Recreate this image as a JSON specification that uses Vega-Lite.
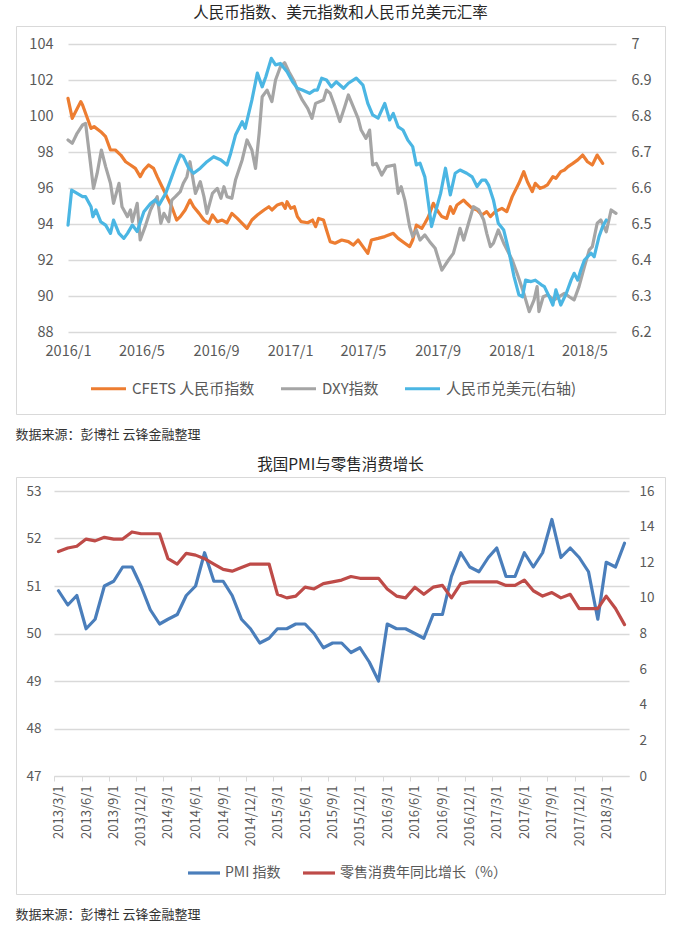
{
"$schema": "https://vega.github.io/schema/vega-lite/v6.json",
"background": "white",
"padding": {"left": 15, "right": 16, "top": 5, "bottom": 2},
"spacing": 15,
"resolve": {"scale": {"color": "independent"}, "legend": {"color": "independent"}},
"config": {
  "font": "Noto Sans CJK SC",
  "view": {"stroke": "#d9d9d9", "strokeWidth": 1},
  "axis": {"labelFont": "Noto Sans CJK SC", "labelColor": "#595959", "gridColor": "#d9d9d9", "gridWidth": 1.3, "ticks": false, "domain": false, "tickSize": 0, "labelOverlap": false},
  "legend": {"labelFont": "Noto Sans CJK SC", "labelColor": "#595959", "labelLimit": 400},
  "title": {"font": "Noto Sans CJK SC", "fontWeight": "normal", "color": "#262626"},
  "line": {"strokeWidth": 3.2, "strokeJoin": "round", "strokeCap": "round"}
},
"datasets": {
  "cfets": [
    {"d":"2016-01-01","v":100.98},{"d":"2016-01-08","v":99.87},{"d":"2016-01-22","v":100.80},{"d":"2016-01-25","v":100.61},{"d":"2016-02-03","v":99.78},{"d":"2016-02-08","v":99.31},{"d":"2016-02-13","v":99.41},{"d":"2016-02-24","v":99.13},{"d":"2016-03-03","v":98.85},{"d":"2016-03-11","v":98.11},{"d":"2016-03-19","v":98.11},{"d":"2016-03-28","v":97.83},{"d":"2016-04-05","v":97.46},{"d":"2016-04-13","v":97.28},{"d":"2016-04-21","v":97.09},{"d":"2016-04-29","v":96.63},{"d":"2016-05-05","v":97.00},{"d":"2016-05-13","v":97.28},{"d":"2016-05-21","v":97.09},{"d":"2016-05-27","v":96.63},{"d":"2016-06-04","v":96.07},{"d":"2016-06-12","v":95.52},{"d":"2016-06-20","v":94.96},{"d":"2016-06-28","v":94.22},{"d":"2016-07-04","v":94.41},{"d":"2016-07-12","v":94.78},{"d":"2016-07-20","v":95.33},{"d":"2016-07-26","v":94.96},{"d":"2016-08-04","v":94.59},{"d":"2016-08-12","v":94.22},{"d":"2016-08-20","v":94.04},{"d":"2016-08-26","v":94.50},{"d":"2016-09-03","v":94.13},{"d":"2016-09-11","v":94.22},{"d":"2016-09-19","v":94.07},{"d":"2016-09-27","v":94.59},{"d":"2016-10-06","v":94.31},{"d":"2016-10-14","v":94.04},{"d":"2016-10-22","v":93.76},{"d":"2016-10-30","v":94.22},{"d":"2016-11-08","v":94.50},{"d":"2016-11-19","v":94.78},{"d":"2016-11-27","v":94.96},{"d":"2016-12-02","v":94.78},{"d":"2016-12-11","v":95.06},{"d":"2016-12-19","v":95.15},{"d":"2016-12-24","v":94.87},{"d":"2016-12-27","v":95.24},{"d":"2017-01-02","v":94.87},{"d":"2017-01-08","v":94.96},{"d":"2017-01-13","v":94.41},{"d":"2017-01-19","v":94.13},{"d":"2017-01-30","v":94.07},{"d":"2017-02-07","v":94.22},{"d":"2017-02-12","v":93.85},{"d":"2017-02-17","v":94.31},{"d":"2017-02-25","v":94.22},{"d":"2017-03-02","v":93.67},{"d":"2017-03-08","v":93.02},{"d":"2017-03-16","v":92.93},{"d":"2017-03-27","v":93.11},{"d":"2017-04-07","v":93.02},{"d":"2017-04-15","v":92.83},{"d":"2017-04-23","v":93.11},{"d":"2017-05-01","v":92.74},{"d":"2017-05-09","v":92.37},{"d":"2017-05-15","v":93.11},{"d":"2017-05-26","v":93.20},{"d":"2017-06-06","v":93.30},{"d":"2017-06-20","v":93.48},{"d":"2017-06-28","v":93.20},{"d":"2017-07-09","v":92.93},{"d":"2017-07-17","v":92.74},{"d":"2017-07-22","v":93.11},{"d":"2017-07-28","v":93.94},{"d":"2017-08-06","v":93.76},{"d":"2017-08-11","v":94.04},{"d":"2017-08-17","v":94.41},{"d":"2017-08-25","v":95.15},{"d":"2017-08-31","v":94.78},{"d":"2017-09-08","v":94.41},{"d":"2017-09-16","v":94.31},{"d":"2017-09-22","v":94.96},{"d":"2017-09-27","v":94.59},{"d":"2017-10-03","v":95.06},{"d":"2017-10-14","v":95.33},{"d":"2017-10-19","v":95.15},{"d":"2017-10-28","v":94.87},{"d":"2017-11-05","v":94.78},{"d":"2017-11-13","v":94.50},{"d":"2017-11-21","v":94.69},{"d":"2017-11-27","v":94.41},{"d":"2017-12-05","v":94.69},{"d":"2017-12-16","v":94.87},{"d":"2017-12-24","v":94.69},{"d":"2018-01-02","v":95.52},{"d":"2018-01-13","v":96.26},{"d":"2018-01-21","v":96.91},{"d":"2018-01-27","v":96.35},{"d":"2018-02-04","v":95.80},{"d":"2018-02-09","v":96.26},{"d":"2018-02-17","v":95.98},{"d":"2018-02-24","v":96.07},{"d":"2018-03-01","v":96.17},{"d":"2018-03-10","v":96.63},{"d":"2018-03-15","v":96.54},{"d":"2018-03-23","v":96.91},{"d":"2018-03-29","v":97.00},{"d":"2018-04-04","v":97.19},{"d":"2018-04-12","v":97.37},{"d":"2018-04-20","v":97.56},{"d":"2018-04-28","v":97.83},{"d":"2018-05-06","v":97.46},{"d":"2018-05-14","v":97.28},{"d":"2018-05-22","v":97.83},{"d":"2018-05-31","v":97.37}
  ],
  "dxy": [
    {"d":"2016-01-01","v":98.67},{"d":"2016-01-08","v":98.48},{"d":"2016-01-16","v":99.04},{"d":"2016-01-25","v":99.50},{"d":"2016-01-30","v":99.59},{"d":"2016-02-05","v":97.93},{"d":"2016-02-12","v":95.98},{"d":"2016-02-18","v":96.81},{"d":"2016-02-25","v":98.11},{"d":"2016-03-03","v":97.19},{"d":"2016-03-11","v":96.26},{"d":"2016-03-16","v":95.15},{"d":"2016-03-25","v":96.26},{"d":"2016-03-30","v":94.96},{"d":"2016-04-08","v":94.41},{"d":"2016-04-13","v":94.78},{"d":"2016-04-16","v":94.13},{"d":"2016-04-24","v":95.15},{"d":"2016-04-29","v":93.11},{"d":"2016-05-08","v":93.94},{"d":"2016-05-16","v":94.78},{"d":"2016-05-24","v":95.33},{"d":"2016-05-27","v":95.52},{"d":"2016-06-02","v":94.04},{"d":"2016-06-07","v":94.59},{"d":"2016-06-15","v":94.13},{"d":"2016-06-20","v":95.33},{"d":"2016-06-26","v":95.52},{"d":"2016-07-04","v":95.80},{"d":"2016-07-09","v":96.26},{"d":"2016-07-15","v":96.63},{"d":"2016-07-20","v":97.46},{"d":"2016-07-29","v":95.70},{"d":"2016-08-06","v":96.35},{"d":"2016-08-12","v":95.52},{"d":"2016-08-17","v":94.59},{"d":"2016-08-26","v":95.70},{"d":"2016-09-03","v":95.98},{"d":"2016-09-09","v":95.43},{"d":"2016-09-14","v":96.07},{"d":"2016-09-19","v":95.52},{"d":"2016-09-27","v":95.43},{"d":"2016-10-03","v":96.44},{"d":"2016-10-14","v":97.56},{"d":"2016-10-22","v":98.67},{"d":"2016-10-30","v":98.11},{"d":"2016-11-05","v":97.09},{"d":"2016-11-11","v":99.04},{"d":"2016-11-16","v":101.07},{"d":"2016-11-24","v":101.44},{"d":"2016-12-02","v":100.80},{"d":"2016-12-08","v":102.00},{"d":"2016-12-16","v":102.74},{"d":"2016-12-23","v":102.96},{"d":"2016-12-30","v":102.46},{"d":"2017-01-08","v":101.91},{"d":"2017-01-13","v":101.44},{"d":"2017-01-21","v":100.89},{"d":"2017-01-30","v":100.43},{"d":"2017-02-06","v":99.87},{"d":"2017-02-12","v":100.70},{"d":"2017-02-25","v":100.89},{"d":"2017-03-02","v":101.44},{"d":"2017-03-08","v":101.26},{"d":"2017-03-16","v":100.52},{"d":"2017-03-24","v":99.69},{"d":"2017-04-01","v":100.52},{"d":"2017-04-07","v":101.17},{"d":"2017-04-15","v":100.52},{"d":"2017-04-23","v":99.87},{"d":"2017-04-28","v":99.22},{"d":"2017-05-06","v":98.76},{"d":"2017-05-12","v":99.22},{"d":"2017-05-17","v":97.28},{"d":"2017-05-23","v":97.37},{"d":"2017-06-01","v":96.72},{"d":"2017-06-09","v":97.19},{"d":"2017-06-22","v":97.28},{"d":"2017-06-28","v":95.70},{"d":"2017-07-03","v":96.07},{"d":"2017-07-09","v":95.33},{"d":"2017-07-17","v":93.85},{"d":"2017-07-22","v":93.30},{"d":"2017-07-28","v":93.67},{"d":"2017-08-03","v":93.11},{"d":"2017-08-11","v":93.39},{"d":"2017-08-19","v":93.02},{"d":"2017-08-28","v":92.65},{"d":"2017-09-08","v":91.44},{"d":"2017-09-19","v":92.00},{"d":"2017-09-27","v":92.37},{"d":"2017-10-03","v":93.11},{"d":"2017-10-08","v":93.76},{"d":"2017-10-14","v":93.11},{"d":"2017-10-22","v":94.04},{"d":"2017-10-30","v":94.96},{"d":"2017-11-08","v":94.78},{"d":"2017-11-16","v":94.22},{"d":"2017-11-21","v":93.48},{"d":"2017-11-27","v":92.74},{"d":"2017-12-02","v":92.93},{"d":"2017-12-10","v":93.67},{"d":"2017-12-19","v":92.93},{"d":"2018-01-02","v":92.00},{"d":"2018-01-10","v":91.26},{"d":"2018-01-21","v":90.15},{"d":"2018-01-30","v":89.13},{"d":"2018-02-07","v":89.78},{"d":"2018-02-12","v":90.52},{"d":"2018-02-15","v":89.13},{"d":"2018-02-22","v":89.96},{"d":"2018-03-01","v":90.06},{"d":"2018-03-12","v":89.78},{"d":"2018-03-29","v":90.15},{"d":"2018-04-06","v":89.96},{"d":"2018-04-14","v":89.78},{"d":"2018-04-22","v":90.52},{"d":"2018-05-01","v":91.63},{"d":"2018-05-09","v":92.56},{"d":"2018-05-14","v":92.74},{"d":"2018-05-22","v":94.04},{"d":"2018-05-28","v":94.22},{"d":"2018-06-06","v":93.57},{"d":"2018-06-14","v":94.78},{"d":"2018-06-22","v":94.59}
  ],
  "cny": [
    {"d":"2016-01-01","v":6.497},{"d":"2016-01-07","v":6.594},{"d":"2016-01-16","v":6.585},{"d":"2016-01-25","v":6.576},{"d":"2016-01-30","v":6.576},{"d":"2016-02-08","v":6.548},{"d":"2016-02-11","v":6.520},{"d":"2016-02-16","v":6.539},{"d":"2016-02-24","v":6.506},{"d":"2016-03-03","v":6.497},{"d":"2016-03-11","v":6.474},{"d":"2016-03-16","v":6.511},{"d":"2016-03-25","v":6.474},{"d":"2016-04-02","v":6.460},{"d":"2016-04-08","v":6.474},{"d":"2016-04-16","v":6.497},{"d":"2016-04-24","v":6.479},{"d":"2016-05-05","v":6.534},{"d":"2016-05-16","v":6.557},{"d":"2016-05-24","v":6.567},{"d":"2016-05-30","v":6.553},{"d":"2016-06-10","v":6.585},{"d":"2016-06-18","v":6.622},{"d":"2016-06-26","v":6.659},{"d":"2016-07-04","v":6.692},{"d":"2016-07-09","v":6.687},{"d":"2016-07-18","v":6.655},{"d":"2016-07-26","v":6.641},{"d":"2016-08-06","v":6.655},{"d":"2016-08-17","v":6.673},{"d":"2016-08-28","v":6.687},{"d":"2016-09-09","v":6.678},{"d":"2016-09-19","v":6.664},{"d":"2016-09-25","v":6.696},{"d":"2016-10-03","v":6.747},{"d":"2016-10-14","v":6.784},{"d":"2016-10-19","v":6.766},{"d":"2016-10-30","v":6.844},{"d":"2016-11-08","v":6.919},{"d":"2016-11-16","v":6.881},{"d":"2016-11-22","v":6.909},{"d":"2016-12-01","v":6.960},{"d":"2016-12-08","v":6.942},{"d":"2016-12-16","v":6.946},{"d":"2016-12-27","v":6.923},{"d":"2017-01-05","v":6.895},{"d":"2017-01-13","v":6.877},{"d":"2017-01-21","v":6.872},{"d":"2017-02-02","v":6.863},{"d":"2017-02-10","v":6.872},{"d":"2017-02-15","v":6.872},{"d":"2017-02-22","v":6.905},{"d":"2017-03-02","v":6.900},{"d":"2017-03-10","v":6.881},{"d":"2017-03-18","v":6.895},{"d":"2017-03-30","v":6.877},{"d":"2017-04-07","v":6.891},{"d":"2017-04-20","v":6.905},{"d":"2017-05-01","v":6.886},{"d":"2017-05-09","v":6.835},{"d":"2017-05-17","v":6.803},{"d":"2017-05-26","v":6.794},{"d":"2017-06-06","v":6.835},{"d":"2017-06-14","v":6.789},{"d":"2017-06-20","v":6.807},{"d":"2017-06-28","v":6.770},{"d":"2017-07-06","v":6.761},{"d":"2017-07-14","v":6.733},{"d":"2017-07-22","v":6.715},{"d":"2017-07-28","v":6.664},{"d":"2017-08-03","v":6.669},{"d":"2017-08-11","v":6.631},{"d":"2017-08-17","v":6.557},{"d":"2017-08-22","v":6.493},{"d":"2017-08-28","v":6.530},{"d":"2017-09-06","v":6.585},{"d":"2017-09-14","v":6.655},{"d":"2017-09-22","v":6.581},{"d":"2017-09-30","v":6.641},{"d":"2017-10-08","v":6.650},{"d":"2017-10-19","v":6.641},{"d":"2017-10-28","v":6.631},{"d":"2017-11-05","v":6.604},{"d":"2017-11-13","v":6.622},{"d":"2017-11-19","v":6.622},{"d":"2017-11-24","v":6.608},{"d":"2017-12-02","v":6.567},{"d":"2017-12-10","v":6.502},{"d":"2017-12-19","v":6.483},{"d":"2017-12-27","v":6.428},{"d":"2018-01-05","v":6.354},{"d":"2018-01-13","v":6.303},{"d":"2018-01-19","v":6.298},{"d":"2018-01-24","v":6.344},{"d":"2018-02-02","v":6.340},{"d":"2018-02-09","v":6.344},{"d":"2018-02-19","v":6.331},{"d":"2018-02-24","v":6.326},{"d":"2018-03-04","v":6.298},{"d":"2018-03-10","v":6.275},{"d":"2018-03-15","v":6.317},{"d":"2018-03-23","v":6.275},{"d":"2018-04-01","v":6.307},{"d":"2018-04-09","v":6.344},{"d":"2018-04-14","v":6.363},{"d":"2018-04-20","v":6.344},{"d":"2018-04-25","v":6.372},{"d":"2018-05-01","v":6.400},{"d":"2018-05-12","v":6.419},{"d":"2018-05-17","v":6.409},{"d":"2018-05-25","v":6.465},{"d":"2018-05-31","v":6.493},{"d":"2018-06-06","v":6.511}
  ],
  "pmi": [
    {"m":"2013-03-01","v":50.9},{"m":"2013-04-01","v":50.6},{"m":"2013-05-01","v":50.8},{"m":"2013-06-01","v":50.1},{"m":"2013-07-01","v":50.3},{"m":"2013-08-01","v":51.0},{"m":"2013-09-01","v":51.1},{"m":"2013-10-01","v":51.4},{"m":"2013-11-01","v":51.4},{"m":"2013-12-01","v":51.0},
    {"m":"2014-01-01","v":50.5},{"m":"2014-02-01","v":50.2},{"m":"2014-03-01","v":50.3},{"m":"2014-04-01","v":50.4},{"m":"2014-05-01","v":50.8},{"m":"2014-06-01","v":51.0},{"m":"2014-07-01","v":51.7},{"m":"2014-08-01","v":51.1},{"m":"2014-09-01","v":51.1},{"m":"2014-10-01","v":50.8},{"m":"2014-11-01","v":50.3},{"m":"2014-12-01","v":50.1},
    {"m":"2015-01-01","v":49.8},{"m":"2015-02-01","v":49.9},{"m":"2015-03-01","v":50.1},{"m":"2015-04-01","v":50.1},{"m":"2015-05-01","v":50.2},{"m":"2015-06-01","v":50.2},{"m":"2015-07-01","v":50.0},{"m":"2015-08-01","v":49.7},{"m":"2015-09-01","v":49.8},{"m":"2015-10-01","v":49.8},{"m":"2015-11-01","v":49.6},{"m":"2015-12-01","v":49.7},
    {"m":"2016-01-01","v":49.4},{"m":"2016-02-01","v":49.0},{"m":"2016-03-01","v":50.2},{"m":"2016-04-01","v":50.1},{"m":"2016-05-01","v":50.1},{"m":"2016-06-01","v":50.0},{"m":"2016-07-01","v":49.9},{"m":"2016-08-01","v":50.4},{"m":"2016-09-01","v":50.4},{"m":"2016-10-01","v":51.2},{"m":"2016-11-01","v":51.7},{"m":"2016-12-01","v":51.4},
    {"m":"2017-01-01","v":51.3},{"m":"2017-02-01","v":51.6},{"m":"2017-03-01","v":51.8},{"m":"2017-04-01","v":51.2},{"m":"2017-05-01","v":51.2},{"m":"2017-06-01","v":51.7},{"m":"2017-07-01","v":51.4},{"m":"2017-08-01","v":51.7},{"m":"2017-09-01","v":52.4},{"m":"2017-10-01","v":51.6},{"m":"2017-11-01","v":51.8},{"m":"2017-12-01","v":51.6},
    {"m":"2018-01-01","v":51.3},{"m":"2018-02-01","v":50.3},{"m":"2018-03-01","v":51.5},{"m":"2018-04-01","v":51.4},{"m":"2018-05-01","v":51.9}
  ],
  "retail": [
    {"m":"2013-03-01","v":12.6},{"m":"2013-04-01","v":12.8},{"m":"2013-05-01","v":12.9},{"m":"2013-06-01","v":13.3},{"m":"2013-07-01","v":13.2},{"m":"2013-08-01","v":13.4},{"m":"2013-09-01","v":13.3},{"m":"2013-10-01","v":13.3},{"m":"2013-11-01","v":13.7},{"m":"2013-12-01","v":13.6},
    {"m":"2014-01-01","v":13.6},{"m":"2014-02-01","v":13.6},{"m":"2014-03-01","v":12.2},{"m":"2014-04-01","v":11.9},{"m":"2014-05-01","v":12.5},{"m":"2014-06-01","v":12.4},{"m":"2014-07-01","v":12.2},{"m":"2014-08-01","v":11.9},{"m":"2014-09-01","v":11.6},{"m":"2014-10-01","v":11.5},{"m":"2014-11-01","v":11.7},{"m":"2014-12-01","v":11.9},
    {"m":"2015-01-01","v":11.9},{"m":"2015-02-01","v":11.9},{"m":"2015-03-01","v":10.2},{"m":"2015-04-01","v":10.0},{"m":"2015-05-01","v":10.1},{"m":"2015-06-01","v":10.6},{"m":"2015-07-01","v":10.5},{"m":"2015-08-01","v":10.8},{"m":"2015-09-01","v":10.9},{"m":"2015-10-01","v":11.0},{"m":"2015-11-01","v":11.2},{"m":"2015-12-01","v":11.1},
    {"m":"2016-01-01","v":11.1},{"m":"2016-02-01","v":11.1},{"m":"2016-03-01","v":10.5},{"m":"2016-04-01","v":10.1},{"m":"2016-05-01","v":10.0},{"m":"2016-06-01","v":10.6},{"m":"2016-07-01","v":10.2},{"m":"2016-08-01","v":10.6},{"m":"2016-09-01","v":10.7},{"m":"2016-10-01","v":10.0},{"m":"2016-11-01","v":10.8},{"m":"2016-12-01","v":10.9},
    {"m":"2017-01-01","v":10.9},{"m":"2017-02-01","v":10.9},{"m":"2017-03-01","v":10.9},{"m":"2017-04-01","v":10.7},{"m":"2017-05-01","v":10.7},{"m":"2017-06-01","v":11.0},{"m":"2017-07-01","v":10.4},{"m":"2017-08-01","v":10.1},{"m":"2017-09-01","v":10.3},{"m":"2017-10-01","v":10.0},{"m":"2017-11-01","v":10.2},{"m":"2017-12-01","v":9.4},
    {"m":"2018-01-01","v":9.4},{"m":"2018-02-01","v":9.4},{"m":"2018-03-01","v":10.1},{"m":"2018-04-01","v":9.4},{"m":"2018-05-01","v":8.5}
  ]
},
"vconcat": [
  {
    "title": {"text": "数据来源：彭博社 云锋金融整理", "orient": "bottom", "anchor": "start", "fontSize": 13, "offset": 14, "color": "#333333"},
    "vconcat": [
      {
        "width": 649, "height": 388,
        "title": {"text": "人民币指数、美元指数和人民币兑美元汇率", "fontSize": 15.5, "offset": 5},
        "encoding": {
          "x": {"field": "d", "type": "temporal", "title": null,
                "scale": {"type": "utc", "domain": [{"year": 2016, "month": 1, "date": 1, "utc": true}, {"year": 2018, "month": 6, "date": 22, "utc": true}], "range": [52, 600]},
                "axis": {"orient": "bottom", "offset": -74, "labelPadding": 4, "format": "%Y/%-m", "labelFontSize": 14.5, "labelAngle": 0, "labelAlign": "center", "grid": false, "labelOverlap": false,
                         "values": [{"year": 2016, "month": 1, "date": 1, "utc": true}, {"year": 2016, "month": 5, "date": 1, "utc": true}, {"year": 2016, "month": 9, "date": 1, "utc": true}, {"year": 2017, "month": 1, "date": 1, "utc": true}, {"year": 2017, "month": 5, "date": 1, "utc": true}, {"year": 2017, "month": 9, "date": 1, "utc": true}, {"year": 2018, "month": 1, "date": 1, "utc": true}, {"year": 2018, "month": 5, "date": 1, "utc": true}]}}
        },
        "layer": [
          {"layer": [
            {"data": {"name": "cfets"}, "mark": {"type": "line"},
             "encoding": {
               "y": {"field": "v", "type": "quantitative", "title": null,
                     "scale": {"domain": [88, 104], "range": [306, 18], "zero": false, "nice": false},
                     "axis": {"orient": "left", "offset": -41, "labelPadding": 4, "grid": true, "values": [88, 90, 92, 94, 96, 98, 100, 102, 104], "format": "d", "labelFontSize": 14.5}},
               "color": {"datum": "CFETS 人民币指数",
                         "scale": {"domain": ["CFETS 人民币指数", "DXY指数", "人民币兑美元(右轴)"], "range": ["#ED7D31", "#A5A5A5", "#4BB6E3"]},
                         "legend": {"orient": "none", "legendX": 73, "legendY": 343, "direction": "horizontal", "title": null, "symbolType": "stroke", "symbolSize": 1225, "symbolStrokeWidth": 3.5, "labelFontSize": 15, "columnPadding": 24, "padding": 0, "labelOffset": 4}}
             }},
            {"data": {"name": "dxy"}, "mark": {"type": "line"},
             "encoding": {
               "y": {"field": "v", "type": "quantitative", "title": null},
               "color": {"datum": "DXY指数"}
             }}
          ]},
          {"data": {"name": "cny"}, "mark": {"type": "line"},
           "encoding": {
             "y": {"field": "v", "type": "quantitative", "title": null,
                   "scale": {"domain": [6.2, 7], "range": [306, 18], "zero": false, "nice": false},
                   "axis": {"orient": "right", "offset": -38, "labelPadding": 4, "grid": false, "values": [6.2, 6.3, 6.4, 6.5, 6.6, 6.7, 6.8, 6.9, 7], "format": ".1~f", "labelFontSize": 14.5}},
             "color": {"datum": "人民币兑美元(右轴)"}
           }}
        ],
        "resolve": {"scale": {"y": "independent"}}
      }
    ]
  },
  {
    "title": {"text": "数据来源：彭博社 云锋金融整理", "orient": "bottom", "anchor": "start", "fontSize": 13, "offset": 14, "color": "#333333"},
    "vconcat": [
      {
        "width": 649, "height": 417,
        "title": {"text": "我国PMI与零售消费增长", "fontSize": 15.5, "offset": 4},
        "encoding": {
          "x": {"field": "m", "type": "temporal", "title": null,
                "scale": {"type": "utc", "domain": [{"year": 2013, "month": 2, "date": 14, "utc": true}, {"year": 2018, "month": 5, "date": 16, "utc": true}], "range": [38, 613]},
                "axis": {"orient": "bottom", "offset": -118, "format": "%Y/%-m/%-d", "labelAngle": 270, "labelFontSize": 13, "grid": false, "labelOverlap": false, "labelBound": false, "labelFlush": false, "labelSeparation": 0,
                         "ticks": true, "tickSize": 5, "tickColor": "#d9d9d9", "domain": true, "domainColor": "#d9d9d9", "tickOffset": -4.5, "labelOffset": 4.5, "labelPadding": 4,
                         "values": [{"year": 2013, "month": 3, "date": 1, "utc": true}, {"year": 2013, "month": 6, "date": 1, "utc": true}, {"year": 2013, "month": 9, "date": 1, "utc": true}, {"year": 2013, "month": 12, "date": 1, "utc": true}, {"year": 2014, "month": 3, "date": 1, "utc": true}, {"year": 2014, "month": 6, "date": 1, "utc": true}, {"year": 2014, "month": 9, "date": 1, "utc": true}, {"year": 2014, "month": 12, "date": 1, "utc": true}, {"year": 2015, "month": 3, "date": 1, "utc": true}, {"year": 2015, "month": 6, "date": 1, "utc": true}, {"year": 2015, "month": 9, "date": 1, "utc": true}, {"year": 2015, "month": 12, "date": 1, "utc": true}, {"year": 2016, "month": 3, "date": 1, "utc": true}, {"year": 2016, "month": 6, "date": 1, "utc": true}, {"year": 2016, "month": 9, "date": 1, "utc": true}, {"year": 2016, "month": 12, "date": 1, "utc": true}, {"year": 2017, "month": 3, "date": 1, "utc": true}, {"year": 2017, "month": 6, "date": 1, "utc": true}, {"year": 2017, "month": 9, "date": 1, "utc": true}, {"year": 2017, "month": 12, "date": 1, "utc": true}, {"year": 2018, "month": 3, "date": 1, "utc": true}]}}
        },
        "layer": [
          {"data": {"name": "pmi"}, "mark": {"type": "line"},
           "encoding": {
             "y": {"field": "v", "type": "quantitative", "title": null,
                   "scale": {"domain": [47, 53], "range": [299, 14], "zero": false, "nice": false},
                   "axis": {"orient": "left", "offset": -29, "labelPadding": 4, "grid": true, "values": [47, 48, 49, 50, 51, 52, 53], "format": "d", "labelFontSize": 13.5}},
             "color": {"datum": "PMI 指数",
                       "scale": {"domain": ["PMI 指数", "零售消费年同比增长（%）"], "range": ["#4A7EBB", "#BE4B48"]},
                       "legend": {"orient": "none", "legendX": 170, "legendY": 378, "direction": "horizontal", "title": null, "symbolType": "stroke", "symbolSize": 1024, "symbolStrokeWidth": 3.5, "labelFontSize": 14, "columnPadding": 20, "padding": 0, "labelOffset": 3, "labelLimit": 400}}
           }},
          {"data": {"name": "retail"}, "mark": {"type": "line"},
           "encoding": {
             "y": {"field": "v", "type": "quantitative", "title": null,
                   "scale": {"domain": [0, 16], "range": [299, 14], "zero": false, "nice": false},
                   "axis": {"orient": "right", "offset": -30, "labelPadding": 4, "grid": false, "values": [0, 2, 4, 6, 8, 10, 12, 14, 16], "format": "d", "labelFontSize": 13.5}},
             "color": {"datum": "零售消费年同比增长（%）"}
           }}
        ],
        "resolve": {"scale": {"y": "independent"}}
      }
    ]
  }
]
}
